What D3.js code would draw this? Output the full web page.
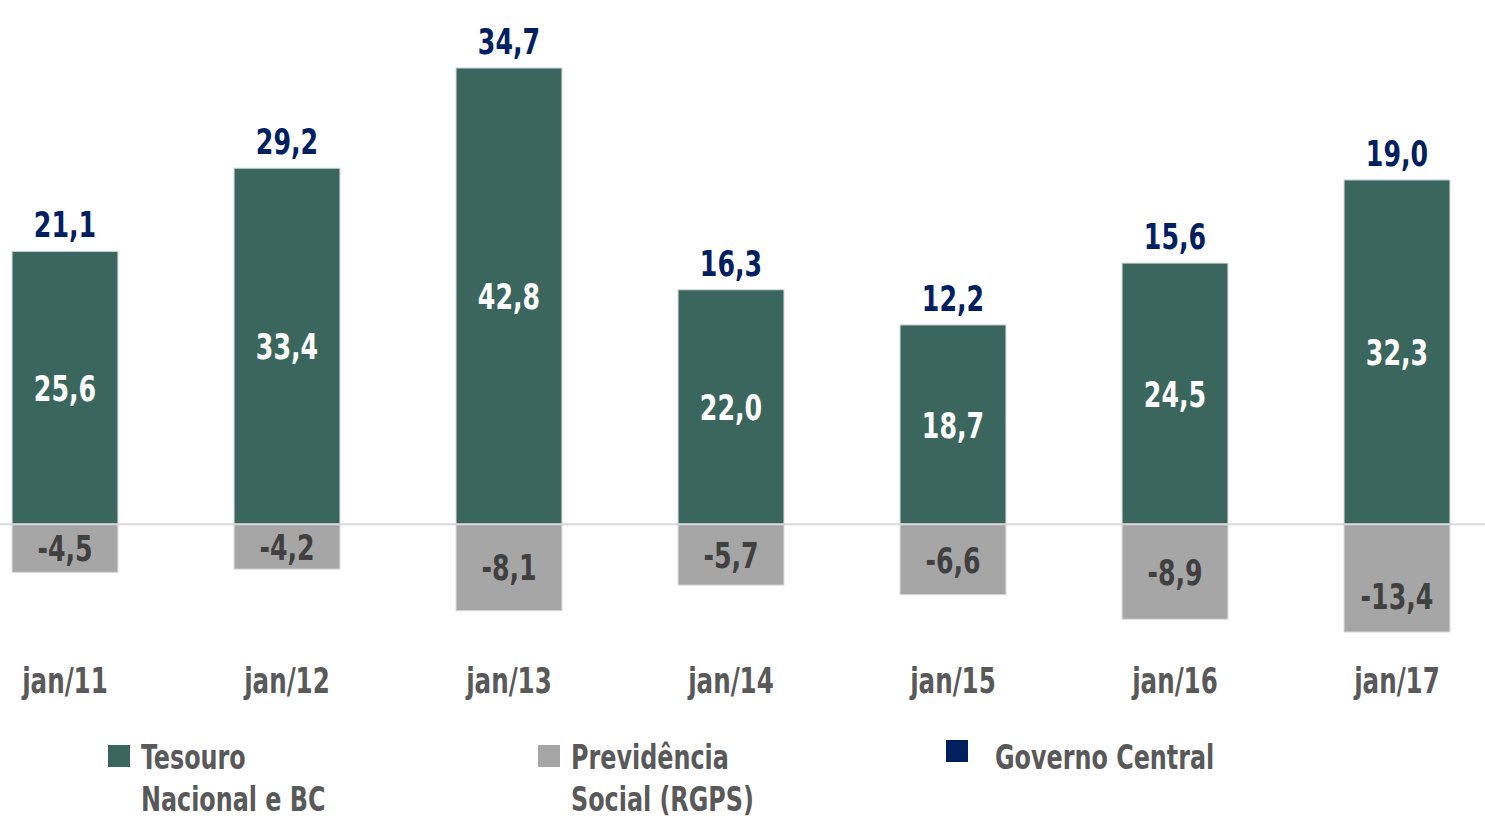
<!DOCTYPE html>
<html>
<head>
<meta charset="utf-8">
<script src="https://cdn.jsdelivr.net/npm/d3@7"></script>
<style>
  body { margin: 0; background: #fff; }
  svg text { font-family: "Liberation Sans Narrow", "Arial Narrow", "DejaVu Sans Condensed", sans-serif; font-weight: bold; }
</style>
</head>
<body>
<div id="chart"></div>
<script>
// Resultado primário - janeiro (R$ bilhões)
var periods = ["jan/11", "jan/12", "jan/13", "jan/14", "jan/15", "jan/16", "jan/17"];
var tesouro = [25.6, 33.4, 42.8, 22.0, 18.7, 24.5, 32.3];
var previdencia = [-4.5, -4.2, -8.1, -5.7, -6.6, -8.9, -13.4];
var governoCentral = [21.1, 29.2, 34.7, 16.3, 12.2, 15.6, 19.0];

var legendItems = [
    { lines: ["Tesouro", "Nacional e BC"], color: "#3a665e" },
    { lines: ["Previdência", "Social (RGPS)"], color: "#a6a6a6" },
    { lines: ["Governo Central"], color: "#002060" }
];

var width = 1485, height = 819;
var squeeze = 0.78; // narrow the fallback font to look condensed
var fmt = function (v) { return v.toFixed(1).replace(".", ","); };

var svg = d3.select("#chart").append("svg")
    .attr("width", width)
    .attr("height", height);

var x = d3.scaleBand()
    .domain(periods)
    .range([-46, 1508])
    .paddingInner(0.523)
    .paddingOuter(0.2615);

// axis minimum cuts the deepest bar, like the original
var y = d3.scaleLinear()
    .domain([-10.1, 42.8])
    .range([632, 68])
    .clamp(true);
var yFree = y.copy().clamp(false);

var data = periods.map(function (p, i) {
    return { period: p, tes: tesouro[i], prev: previdencia[i], gc: governoCentral[i] };
});

// Tesouro bars
svg.selectAll("rect.tes").data(data).enter().append("rect")
    .attr("class", "tes")
    .attr("x", function (d) { return x(d.period); })
    .attr("y", function (d) { return y(d.tes); })
    .attr("width", x.bandwidth())
    .attr("height", function (d) { return y(0) - y(d.tes); })
    .attr("fill", "#3a665e")
    .attr("stroke", "#d0d8d6")
    .attr("stroke-width", 1);

// Previdencia bars
svg.selectAll("rect.prev").data(data).enter().append("rect")
    .attr("class", "prev")
    .attr("x", function (d) { return x(d.period); })
    .attr("y", y(0))
    .attr("width", x.bandwidth())
    .attr("height", function (d) { return y(d.prev) - y(0); })
    .attr("fill", "#a6a6a6")
    .attr("stroke", "#d9d9d9")
    .attr("stroke-width", 1);

// zero line
svg.append("line")
    .attr("x1", 0).attr("x2", width)
    .attr("y1", y(0)).attr("y2", y(0))
    .attr("stroke", "#d9d9d9")
    .attr("stroke-width", 2);

var cx = function (d) { return x(d.period) + x.bandwidth() / 2; };

function label(cls, posY, color, textFn) {
    svg.selectAll("text." + cls).data(data).enter().append("text")
        .attr("class", cls)
        .attr("transform", function (d) {
            return "translate(" + cx(d) + "," + posY(d) + ") scale(" + squeeze + ",1)";
        })
        .attr("text-anchor", "middle")
        .attr("fill", color)
        .style("font-size", "36px")
        .text(textFn);
}

// values inside bars
label("tesv", function (d) { return (y(d.tes) + y(0)) / 2 + 13; }, "#ffffff",
    function (d) { return fmt(d.tes); });
label("prevv", function (d) { return (yFree(d.prev) + y(0)) / 2 + 13; }, "#404040",
    function (d) { return fmt(d.prev); });
// Governo Central totals
label("gcv", function (d) { return y(d.tes) - 14; }, "#002060",
    function (d) { return fmt(d.gc); });

// category axis
var xAxis = svg.append("g")
    .attr("transform", "translate(0,668)")
    .call(d3.axisBottom(x).tickSize(0).tickPadding(0));
xAxis.select(".domain").remove();
xAxis.selectAll("text")
    .attr("dy", "0.71em")
    .attr("transform", "scale(" + squeeze + ",1)")
    .attr("fill", "#595959")
    .style("font-size", "35px");

// legend
var legendX = [108, 538, 946];
var legend = svg.selectAll("g.legend").data(legendItems).enter().append("g")
    .attr("transform", function (d, i) { return "translate(" + legendX[i] + ",745)"; });

legend.append("rect")
    .attr("y", function (d, i) { return i === 2 ? -5 : 0; })
    .attr("width", 22).attr("height", 22)
    .attr("fill", function (d) { return d.color; });

legend.each(function (d, i) {
    var g = d3.select(this);
    d.lines.forEach(function (line, j) {
        g.append("text")
            .attr("transform", "translate(" + (i === 2 ? 49 : 33) + "," + (24 + j * 42) + ") scale(" + squeeze + ",1)")
            .attr("fill", "#595959")
            .style("font-size", "34px")
            .text(line);
    });
});
</script>
</body>
</html>
